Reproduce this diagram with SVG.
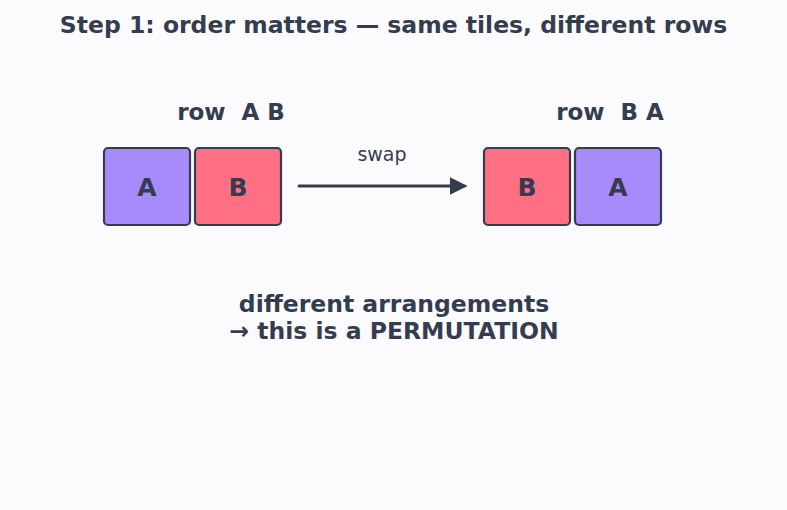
<svg xmlns="http://www.w3.org/2000/svg" width="787" height="510" viewBox="0 0 787 510">
<style>
text{font-family:"DejaVu Sans",sans-serif;fill:#343d4f;text-anchor:middle;white-space:pre}
.b{font-weight:bold}
.tile{stroke:#343d4f;stroke-width:2.2}
.p{fill:#a78bfa}
.r{fill:#ff7085}
</style>
<defs>
<marker id="ah" viewBox="0 0 10 10" refX="8" refY="5" markerWidth="6" markerHeight="6" orient="auto" markerUnits="strokeWidth">
<path d="M0,0 L10,5 L0,10 z" fill="#343d4f"/>
</marker>
</defs>
<rect width="787" height="510" fill="#fbfbfe"/>
<text x="393.5" y="33" class="b" font-size="23.5">Step 1: order matters — same tiles, different rows</text>
<text x="231" y="120" class="b" font-size="23">row  A B</text>
<text x="610" y="120" class="b" font-size="23">row  B A</text>
<g id="left-A"><rect class="tile p" x="104" y="148" width="86" height="77" rx="4"/><text x="147" y="195.5" class="b" font-size="25">A</text></g>
<g id="left-B"><rect class="tile r" x="195" y="148" width="86" height="77" rx="4"/><text x="238" y="195.5" class="b" font-size="25">B</text></g>
<g id="right-B"><rect class="tile r" x="484" y="148" width="86" height="77" rx="4"/><text x="527" y="195.5" class="b" font-size="25">B</text></g>
<g id="right-A"><rect class="tile p" x="575" y="148" width="86" height="77" rx="4"/><text x="618" y="195.5" class="b" font-size="25">A</text></g>
<g id="connectors">
<line x1="299" y1="186" x2="464" y2="186" stroke="#343d4f" stroke-width="3" stroke-linecap="round" marker-end="url(#ah)"/>
<text x="382" y="161" font-size="19">swap</text>
</g>
<text x="394" y="312" class="b" font-size="23.5">different arrangements</text>
<text x="394" y="339" class="b" font-size="23.5">→ this is a PERMUTATION</text>
</svg>
